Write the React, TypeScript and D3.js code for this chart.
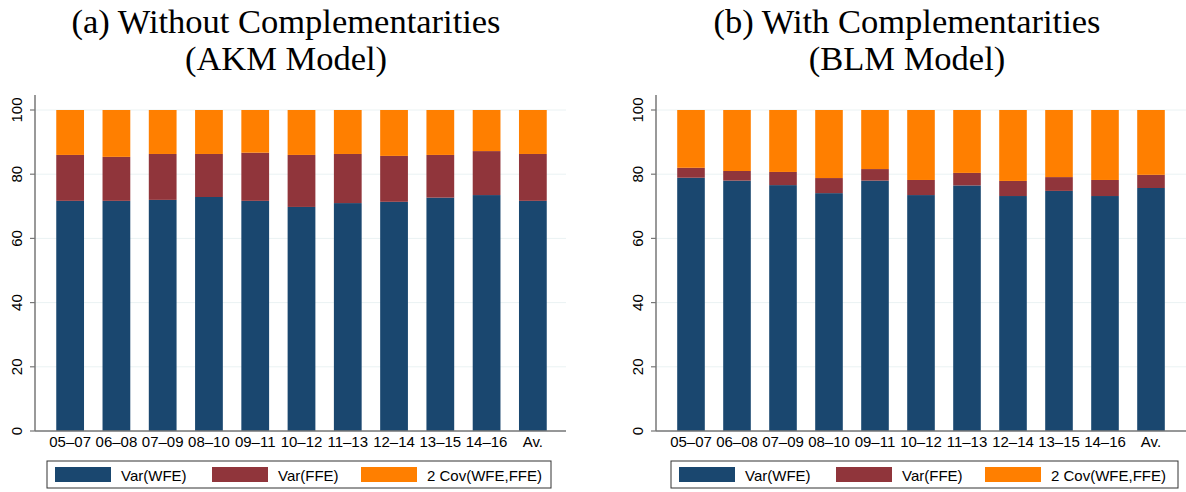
import React from "react";
import * as d3 from "d3";

const categories = ["05–07", "06–08", "07–09", "08–10", "09–11", "10–12", "11–13", "12–14", "13–15", "14–16", "Av."];
const seriesNames = ["Var(WFE)", "Var(FFE)", "2 Cov(WFE,FFE)"];
const seriesColors = ["#1a476f", "#90353b", "#ff7f00"];
const yTicks = [0, 20, 40, 60, 80, 100];

const akmWFE = [71.7, 71.7, 72.0, 72.9, 71.7, 69.8, 71.0, 71.4, 72.7, 73.5, 71.7];
const akmFFE = [14.3, 13.7, 14.3, 13.4, 15.0, 16.2, 15.3, 14.3, 13.3, 13.7, 14.6];
const akmCov = [14.0, 14.6, 13.7, 13.7, 13.3, 14.0, 13.7, 14.3, 14.0, 12.8, 13.7];

const blmWFE = [78.9, 78.0, 76.6, 74.1, 78.0, 73.5, 76.5, 73.2, 74.8, 73.2, 75.7];
const blmFFE = [3.1, 3.0, 4.1, 4.7, 3.6, 4.7, 3.9, 4.7, 4.3, 5.0, 4.1];
const blmCov = [18.0, 19.0, 19.3, 21.2, 18.4, 21.8, 19.6, 22.1, 20.9, 21.8, 20.2];

const titleA = ["(a) Without Complementarities", "(AKM Model)"];
const titleB = ["(b) With Complementarities", "(BLM Model)"];

const legendOffsets = [8, 165, 314];

type PanelProps = {
  x0: number;
  x1: number;
  barX0: number;
  barX1: number;
  titleX: number;
  title: string[];
  series: number[][];
  legendX0: number;
  legendX1: number;
};

const SANS = "'Liberation Sans', Arial, Helvetica, sans-serif";

function Panel({ x0, x1, barX0, barX1, titleX, title, series, legendX0, legendX1 }: PanelProps) {
  const yBase = 431;
  const yTop = 110;
  const y = d3.scaleLinear().domain([0, 100]).range([yBase, yTop]);
  const x = d3.scaleBand<string>().domain(categories).range([barX0, barX1]).paddingInner(0.4).paddingOuter(0.2);

  const rows = categories.map((c, i) => {
    const r: any = { cat: c };
    seriesNames.forEach((s, k) => (r[s] = series[k][i]));
    return r;
  });
  const stacked = d3.stack<any>().keys(seriesNames)(rows);

  const legW = legendX1 - legendX0;
  const legY0 = 461;
  const legY1 = 488;

  return (
    <g>
      {title.map((t, i) => (
        <text key={i} x={titleX} y={33 + i * 37} textAnchor="middle" fontFamily="'Liberation Serif', 'Times New Roman', serif" fontSize={34.5} fill="#000">
          {t}
        </text>
      ))}
      {yTicks.map((t) => (
        <line key={"g" + t} x1={x0} x2={x1} y1={y(t)} y2={y(t)} stroke="#eaf2f3" strokeWidth={1} />
      ))}
      {stacked.map((layer, k) => (
        <g key={k} fill={seriesColors[k]}>
          {layer.map((d, i) => (
            <rect key={i} x={x(categories[i])} width={x.bandwidth()} y={y(d[1])} height={y(d[0]) - y(d[1])} />
          ))}
        </g>
      ))}
      <line x1={x0} x2={x0} y1={95} y2={yBase} stroke="#777" strokeWidth={1.5} />
      <line x1={x0} x2={x1} y1={yBase} y2={yBase} stroke="#777" strokeWidth={1.5} />
      {yTicks.map((t) => (
        <g key={"t" + t}>
          <line x1={x0 - 5} x2={x0} y1={y(t)} y2={y(t)} stroke="#777" strokeWidth={1.2} />
          <text transform={`translate(${x0 - 13},${y(t)}) rotate(-90)`} textAnchor="middle" fontFamily={SANS} fontSize={15} fill="#000">
            {t}
          </text>
        </g>
      ))}
      {categories.map((c) => (
        <text key={c} x={(x(c) as number) + x.bandwidth() / 2} y={447} textAnchor="middle" fontFamily={SANS} fontSize={15} fill="#000">
          {c}
        </text>
      ))}
      <rect x={legendX0} y={legY0} width={legW} height={legY1 - legY0} fill="#fff" stroke="#333" strokeWidth={1} />
      {seriesNames.map((s, k) => (
        <g key={s}>
          <rect x={legendX0 + legendOffsets[k]} y={467} width={56} height={15} fill={seriesColors[k]} />
          <text x={legendX0 + legendOffsets[k] + 66} y={481} fontFamily={SANS} fontSize={15} fill="#000">
            {s}
          </text>
        </g>
      ))}
    </g>
  );
}

export default function App() {
  return (
    <svg width={1186} height={492} style={{ position: "absolute", left: 0, top: 0, background: "#fff" }}>
      <rect width={1186} height={492} fill="#fff" />
      <Panel x0={35} x1={566} barX0={47} barX1={556} titleX={286} title={titleA} series={[akmWFE, akmFFE, akmCov]} legendX0={47} legendX1={551} />
      <Panel x0={656} x1={1186} barX0={668} barX1={1174} titleX={907} title={titleB} series={[blmWFE, blmFFE, blmCov]} legendX0={671} legendX1={1178} />
    </svg>
  );
}
